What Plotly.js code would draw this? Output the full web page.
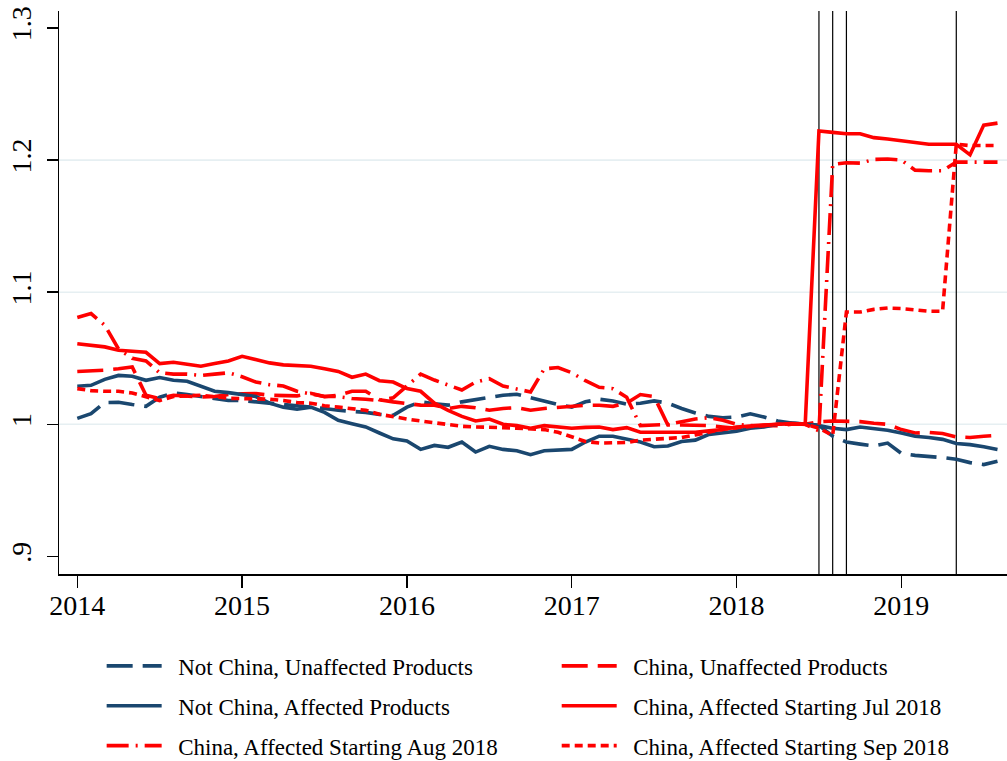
<!DOCTYPE html>
<html>
<head>
<meta charset="utf-8">
<script src="https://cdn.plot.ly/plotly-3.0.1.min.js"></script>
<style>html,body{margin:0;padding:0;background:#fff;}#chart{width:1007px;height:761px;}</style>
</head>
<body>
<div id="chart"></div>
<script>
// Monthly observations, Jan 2014 .. Aug 2019 (index 0 = Jan 2014)
const startYear = 2014, startMonth = 1, nMonths = 68;

const notChinaUnaffected = [
 1.0045, 1.008, 1.0165, 1.0167, 1.015, 1.0136, 1.0205, 1.0237, 1.0225, 1.021, 1.019, 1.018,
 1.018, 1.017, 1.016, 1.015, 1.014, 1.0136, 1.012, 1.0106, 1.010, 1.009, 1.0075, 1.0068,
 1.013, 1.017, 1.0155, 1.0145, 1.017, 1.0187, 1.020, 1.022, 1.0227, 1.020, 1.018, 1.015,
 1.013, 1.017, 1.019, 1.0177, 1.0152, 1.016, 1.0177, 1.016, 1.012, 1.0086, 1.006, 1.005,
 1.0055, 1.008, 1.0055, 1.0025, 1.001, 1.000, 0.9993, 0.991, 0.9866, 0.985, 0.9836, 0.9858,
 0.978, 0.9765, 0.9758, 0.9748, 0.9735, 0.971, 0.9695, 0.972];

const chinaUnaffected = [
 1.040, 1.0402, 1.041, 1.042, 1.0434, 1.022, 1.0195, 1.022, 1.0215, 1.0207, 1.021, 1.0225,
 1.023, 1.0232, 1.022, 1.022, 1.0215, 1.0235, 1.021, 1.022, 1.025, 1.025, 1.0185, 1.017,
 1.016, 1.0145, 1.0144, 1.012, 1.0136, 1.0125, 1.0106, 1.012, 1.0126, 1.0106, 1.012, 1.013,
 1.0135, 1.0144, 1.0144, 1.0136, 1.016, 1.0225, 1.021, 0.9995, 0.9995, 0.9995, 0.999, 0.998,
 0.997, 0.998, 0.999, 0.999, 1.000, 1.000, 1.002, 1.0025, 1.002, 1.002, 1.0008, 1.000,
 0.996, 0.9934, 0.9938, 0.993, 0.9905, 0.990, 0.991, 0.9917];

const notChinaAffected = [
 1.0288, 1.0295, 1.034, 1.037, 1.0364, 1.0333, 1.0354, 1.0333, 1.0326, 1.0288, 1.025, 1.024,
 1.0225, 1.021, 1.016, 1.013, 1.0114, 1.013, 1.009, 1.003, 1.0005, 0.998, 0.9934, 0.989,
 0.9874, 0.981, 0.984, 0.9826, 0.9866, 0.979, 0.9833, 0.981, 0.980, 0.977, 0.980, 0.9803,
 0.981, 0.9866, 0.991, 0.991, 0.989, 0.9866, 0.983, 0.9836, 0.987, 0.988, 0.9924, 0.9935,
 0.9947, 0.997, 0.998, 1.000, 1.001, 1.000, 0.999, 0.997, 0.996, 0.998, 0.997, 0.9955,
 0.9934, 0.991, 0.990, 0.9886, 0.9854, 0.9846, 0.983, 0.981];

const chinaJul2018 = [
 1.061, 1.060, 1.0586, 1.056, 1.055, 1.0545, 1.046, 1.047, 1.0455, 1.044, 1.046, 1.048,
 1.0515, 1.049, 1.0465, 1.045, 1.0445, 1.044, 1.042, 1.040, 1.0356, 1.038, 1.033, 1.032,
 1.027, 1.025, 1.016, 1.0105, 1.006, 1.0025, 1.004, 1.000, 0.999, 0.997, 0.999, 0.998,
 0.997, 0.9977, 0.998, 0.996, 0.9975, 0.994, 0.994, 0.994, 0.994, 0.994, 0.995, 0.996,
 0.998, 0.999, 0.9995, 1.000, 1.0005, 1.000, 1.222, 1.221, 1.220, 1.220, 1.217, 1.216,
 1.2146, 1.213, 1.212, 1.212, 1.212, 1.204, 1.2265, 1.228];

const chinaAug2018 = [
 1.0808, 1.0838, 1.075, 1.057, 1.050, 1.048, 1.039, 1.038, 1.038, 1.037, 1.038, 1.039,
 1.036, 1.032, 1.030, 1.029, 1.025, 1.023, 1.021, 1.021, 1.0195, 1.019, 1.018, 1.020,
 1.029, 1.038, 1.0335, 1.030, 1.026, 1.032, 1.0346, 1.029, 1.027, 1.0245, 1.042, 1.043,
 1.039, 1.033, 1.028, 1.027, 1.0205, 0.999, 0.9995, 1.000, 1.002, 1.004, 1.005, 1.003,
 1.000, 0.999, 0.999, 1.000, 1.000, 1.000, 0.995, 1.1967, 1.198, 1.1977, 1.2005, 1.2008,
 1.200, 1.1924, 1.1919, 1.192, 1.1985, 1.1985, 1.1985, 1.1985];

const chinaSep2018 = [
 1.027, 1.0255, 1.025, 1.025, 1.0237, 1.0207, 1.018, 1.021, 1.0215, 1.022, 1.021, 1.0197,
 1.0195, 1.0195, 1.019, 1.018, 1.0165, 1.016, 1.014, 1.013, 1.012, 1.0106, 1.0076, 1.0055,
 1.004, 1.0025, 1.001, 1.000, 0.9985, 0.998, 0.998, 0.9975, 0.997, 0.9965, 0.996, 0.994,
 0.9905, 0.987, 0.9858, 0.9858, 0.9862, 0.988, 0.9885, 0.989, 0.990, 0.992, 0.994, 0.9962,
 0.9975, 0.9982, 0.9988, 1.000, 1.000, 1.000, 0.997, 0.9915, 1.085, 1.085, 1.087, 1.088,
 1.0876, 1.0864, 1.0856, 1.0856, 1.212, 1.211, 1.211, 1.211];

const seriesNames = [
 'Not China, Unaffected Products',
 'China, Unaffected Products',
 'Not China, Affected Products',
 'China, Affected Starting Jul 2018',
 'China, Affected Starting Aug 2018',
 'China, Affected Starting Sep 2018'
];

const xTickVals = [2014, 2015, 2016, 2017, 2018, 2019];
const xTickText = ['2014', '2015', '2016', '2017', '2018', '2019'];
const yTickVals = [0.9, 1.0, 1.1, 1.2, 1.3];
const yTickText = ['.9', '1', '1.1', '1.2', '1.3'];
const gridVals = [1.0, 1.1, 1.2];
// tariff event months: [year, month]
const eventMonths = [[2018, 7], [2018, 8], [2018, 9], [2019, 5]];

// month index -> decimal year (Stata monthly axis)
const toYear = (y, m) => y + (m - 1) / 12;
const months = [];
for (let i = 0; i < nMonths; i++) {
  const m0 = startMonth - 1 + i;
  months.push(toYear(startYear + Math.floor(m0 / 12), (m0 % 12) + 1));
}

const NAVY = '#1a476f';
const RED = '#ff0000';
const LW = 3.6;
const DASH = '26px,10px';
const DASHDOT = '22px,7px,2px,7px';
const DOT = '8px,5px';

const styles = [
 {color: NAVY, dash: DASH, legend: 'legend'},
 {color: RED, dash: DASH, legend: 'legend2'},
 {color: NAVY, dash: 'solid', legend: 'legend'},
 {color: RED, dash: 'solid', legend: 'legend2'},
 {color: RED, dash: DASHDOT, legend: 'legend'},
 {color: RED, dash: DOT, legend: 'legend2'}
];
const values = [notChinaUnaffected, chinaUnaffected, notChinaAffected, chinaJul2018, chinaAug2018, chinaSep2018];

const PAD = '\u2002'; // gap between legend key and label
const data = values.map((v, k) => ({
  type: 'scatter', mode: 'lines',
  x: months, y: v, name: PAD + seriesNames[k],
  legend: styles[k].legend, legendgroup: 'g' + k,
  line: {color: styles[k].color, dash: styles[k].dash, width: LW},
  hoverinfo: 'skip'
}));

const shapes = [];
gridVals.forEach(g => shapes.push({
  type: 'line', xref: 'paper', yref: 'y', x0: 0, x1: 1, y0: g, y1: g,
  line: {color: '#e6eff2', width: 1.6}, layer: 'below'
}));
eventMonths.forEach(e => {
  const t = toYear(e[0], e[1]);
  shapes.push({
    type: 'line', xref: 'x', yref: 'paper', x0: t, x1: t, y0: 0, y1: 1,
    line: {color: '#000000', width: 1.2}, layer: 'below'
  });
});

const FONT = 'Liberation Serif, Times New Roman, serif';
const legendCommon = {
  orientation: 'v', yref: 'container', yanchor: 'top', xanchor: 'left', y: 0.1532,
  traceorder: 'grouped', tracegroupgap: 7, itemwidth: 55,
  font: {family: FONT, size: 23, color: '#000'},
  bgcolor: 'rgba(0,0,0,0)', borderwidth: 0
};

const layout = {
  width: 1007, height: 761,
  margin: {l: 59, r: 0, t: 11, b: 187, autoexpand: false},
  paper_bgcolor: '#ffffff', plot_bgcolor: '#ffffff',
  font: {family: FONT, color: '#000'},
  showlegend: true,
  xaxis: {
    range: [2013.889, 2019.641], tickvals: xTickVals, ticktext: xTickText,
    ticks: 'outside', ticklen: 12, tickwidth: 1.5, tickcolor: '#000',
    showline: true, linecolor: '#000', linewidth: 2,
    showgrid: false, zeroline: false, automargin: false,
    ticklabelstandoff: -7,
    tickfont: {family: FONT, size: 28, color: '#000'}
  },
  yaxis: {
    range: [0.88668, 1.31287], tickvals: yTickVals, ticktext: yTickText,
    tickangle: -90,
    ticks: 'outside', ticklen: 11, tickwidth: 1.5, tickcolor: '#000',
    showline: true, linecolor: '#000', linewidth: 1.5,
    showgrid: false, zeroline: false, automargin: false,
    ticklabelstandoff: 4,
    tickfont: {family: FONT, size: 28, color: '#000'}
  },
  legend: Object.assign({}, legendCommon, {x: 0.045}),
  legend2: Object.assign({}, legendCommon, {x: 0.525}),
  shapes: shapes
};

Plotly.newPlot('chart', data, layout, {staticPlot: true, displayModeBar: false});
</script>
</body>
</html>
